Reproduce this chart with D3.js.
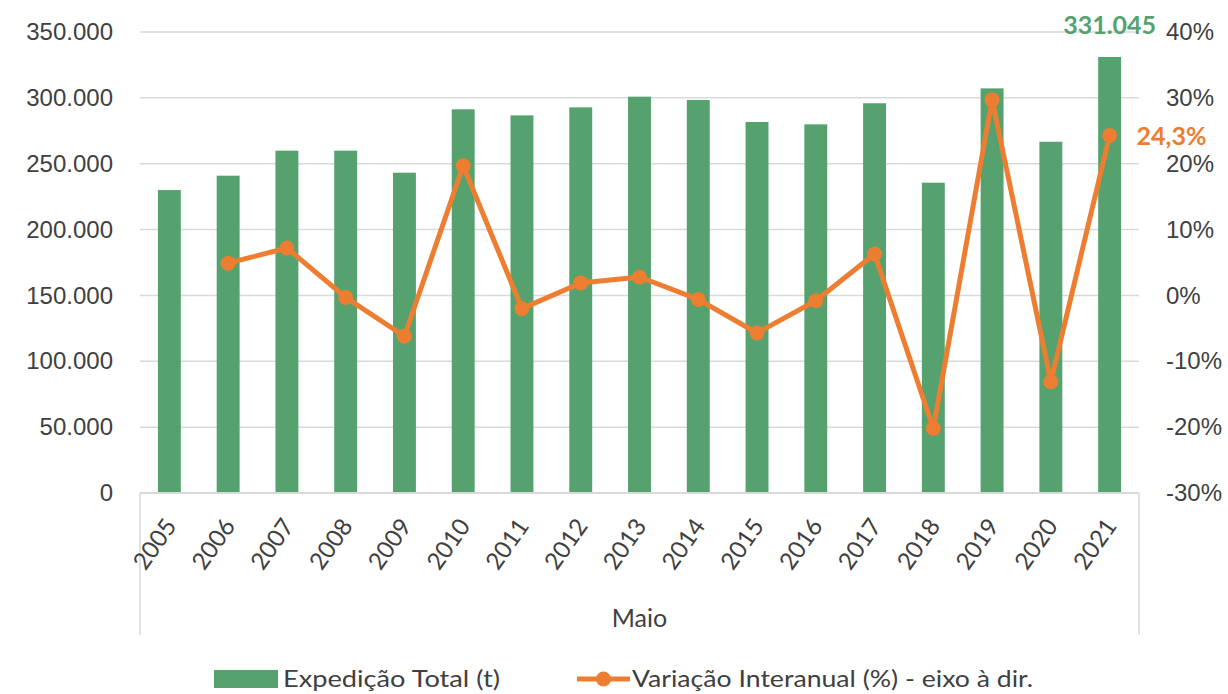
<!DOCTYPE html>
<html>
<head>
<meta charset="utf-8">
<script src="https://cdn.jsdelivr.net/npm/d3@7"></script>
<style>
  body { margin: 0; background: #fff; }
  svg { display: block; font-family: Lato, "Open Sans", sans-serif; }
</style>
</head>
<body>
<svg id="chart" width="1228" height="694"></svg>
<script>
// data
const years = ['2005', '2006', '2007', '2008', '2009', '2010', '2011', '2012', '2013',
  '2014', '2015', '2016', '2017', '2018', '2019', '2020', '2021'];
const expedicao = [230000, 240900, 259900, 259900, 243200, 291300, 286700, 292800, 300900,
  298400, 281700, 279900, 295900, 235600, 307200, 266700, 331045];
// no value for 2005
const variacao = [null, 4.9, 7.2, -0.3, -6.2, 19.7, -2.0, 1.9, 2.8,
  -0.6, -5.7, -0.8, 6.3, -20.2, 29.7, -13.1, 24.3];
const leftTicks = [0, 50000, 100000, 150000, 200000, 250000, 300000, 350000];
const rightTicks = [-30, -20, -10, 0, 10, 20, 30, 40];
const seriesNames = ['Expedição Total (t)', 'Variação Interanual (%) - eixo à dir.'];
const axisTitle = 'Maio';

const green = '#55a26f';
const orange = '#ed7d31';
const grid = '#d9d9d9';
const textColor = '#404040';

const svg = d3.select('#chart');
const plot = { left: 140, right: 1139, top: 32, bottom: 493 };

const x = d3.scaleBand()
  .domain(years)
  .range([plot.left, plot.right])
  .paddingInner(0.61)
  .paddingOuter(0.305);

const yLeft = d3.scaleLinear().domain([0, 350000]).range([plot.bottom, plot.top]);
const yRight = d3.scaleLinear().domain([-30, 40]).range([plot.bottom, plot.top]);

const fmtLeft = d3.formatLocale({ decimal: ',', thousands: '.', grouping: [3], currency: ['', ''] }).format(',.0f');

// gridlines
svg.append('g')
  .selectAll('line')
  .data(leftTicks.slice(1))
  .join('line')
  .attr('x1', plot.left)
  .attr('x2', plot.right)
  .attr('y1', (d) => yLeft(d))
  .attr('y2', (d) => yLeft(d))
  .style('stroke', grid)
  .style('stroke-width', 1.5);

// left axis
const leftAxis = svg.append('g')
  .attr('transform', `translate(${plot.left},0)`)
  .call(d3.axisLeft(yLeft).tickValues(leftTicks).tickFormat(fmtLeft).tickSize(0).tickPadding(27));
leftAxis.select('.domain').remove();
leftAxis.selectAll('text')
  .style('font-size', '24px')
  .style('fill', textColor);

// right axis
const rightAxis = svg.append('g')
  .attr('transform', `translate(${plot.right},0)`)
  .call(d3.axisRight(yRight).tickValues(rightTicks).tickFormat((d) => d + '%').tickSize(0).tickPadding(27));
rightAxis.select('.domain').remove();
rightAxis.selectAll('text')
  .style('font-size', '24px')
  .style('fill', textColor);

// bars
svg.append('g')
  .selectAll('rect')
  .data(expedicao)
  .join('rect')
  .attr('x', (d, i) => x(years[i]))
  .attr('width', x.bandwidth())
  .attr('y', (d) => yLeft(d))
  .attr('height', (d) => yLeft(0) - yLeft(d))
  .style('fill', green);

// category axis box
const boxBottom = 635;
svg.append('line')
  .attr('x1', plot.left).attr('x2', plot.right)
  .attr('y1', plot.bottom).attr('y2', plot.bottom)
  .style('stroke', grid).style('stroke-width', 2);
svg.selectAll('line.side')
  .data([plot.left, plot.right])
  .join('line')
  .attr('class', 'side')
  .attr('x1', (d) => d).attr('x2', (d) => d)
  .attr('y1', plot.bottom).attr('y2', boxBottom)
  .style('stroke', grid).style('stroke-width', 1.5);

svg.append('g')
  .selectAll('text')
  .data(years)
  .join('text')
  .attr('transform', (d) => `translate(${x(d) + x.bandwidth() / 2 + 8},526) rotate(-55)`)
  .attr('text-anchor', 'end')
  .style('font-size', '24px')
  .style('fill', textColor)
  .text((d) => d);

svg.append('text')
  .attr('x', (plot.left + plot.right) / 2)
  .attr('y', 627)
  .attr('text-anchor', 'middle')
  .style('font-size', '25px')
  .style('fill', textColor)
  .text(axisTitle);

// line
const pts = variacao.map((v, i) => ({ year: years[i], v })).filter((d) => d.v !== null);
const line = d3.line()
  .x((d) => x(d.year) + x.bandwidth() / 2)
  .y((d) => yRight(d.v));

svg.append('path')
  .datum(pts)
  .attr('d', line)
  .style('fill', 'none')
  .style('stroke', orange)
  .style('stroke-width', 5)
  .style('stroke-linejoin', 'round');

svg.append('g')
  .selectAll('circle')
  .data(pts)
  .join('circle')
  .attr('cx', (d) => x(d.year) + x.bandwidth() / 2)
  .attr('cy', (d) => yRight(d.v))
  .attr('r', 7.5)
  .style('fill', orange);

// data labels for the last point
const lastI = years.length - 1;
const lastX = x(years[lastI]) + x.bandwidth() / 2;
svg.append('text')
  .attr('x', lastX)
  .attr('y', yLeft(expedicao[lastI]) - 23)
  .attr('text-anchor', 'middle')
  .style('font-size', '25px')
  .style('font-weight', 'bold')
  .style('fill', green)
  .text(fmtLeft(expedicao[lastI]));

svg.append('text')
  .attr('x', lastX + 27)
  .attr('y', yRight(variacao[lastI]) + 10)
  .style('font-size', '25px')
  .style('font-weight', 'bold')
  .style('fill', orange)
  .text(variacao[lastI].toFixed(1).replace('.', ',') + '%');

// legend
const legend = svg.append('g');
legend.append('rect')
  .attr('x', 214).attr('y', 670)
  .attr('width', 64).attr('height', 18)
  .style('fill', green);
legend.append('text')
  .attr('x', 283).attr('y', 687)
  .attr('textLength', 217)
  .attr('lengthAdjust', 'spacingAndGlyphs')
  .style('font-size', '23px')
  .style('fill', textColor)
  .text(seriesNames[0]);
legend.append('line')
  .attr('x1', 577).attr('x2', 630)
  .attr('y1', 679).attr('y2', 679)
  .style('stroke', orange).style('stroke-width', 5);
legend.append('circle')
  .attr('cx', 603.5).attr('cy', 679).attr('r', 7.5)
  .style('fill', orange);
legend.append('text')
  .attr('x', 632).attr('y', 687)
  .attr('textLength', 401)
  .attr('lengthAdjust', 'spacingAndGlyphs')
  .style('font-size', '23px')
  .style('fill', textColor)
  .text(seriesNames[1]);
</script>
</body>
</html>
